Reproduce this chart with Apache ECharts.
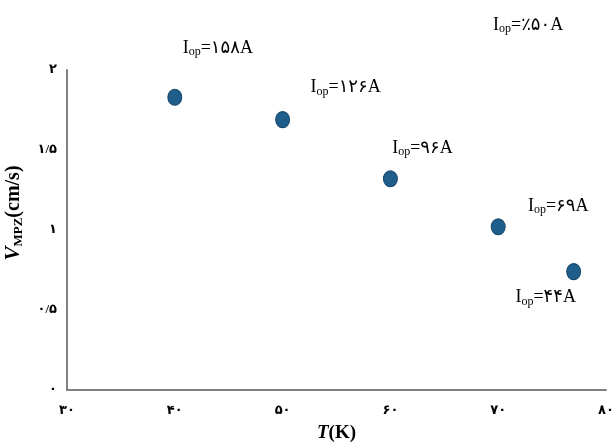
<!DOCTYPE html>
<html>
<head>
<meta charset="utf-8">
<script src="https://cdn.jsdelivr.net/npm/echarts@6/dist/echarts.min.js"></script>
<style>
  html, body { margin: 0; padding: 0; background: #fff; }
  #chart { width: 612px; height: 444px; }
</style>
</head>
<body>
<div id="chart"></div>
<script>
// Temperature (K) and MPZ velocity (cm/s) measurements
const temperatures = [40, 50, 60, 70, 77];
const velocities = [1.83, 1.69, 1.32, 1.02, 0.74];
// Operating current for each point (Persian digits)
const currents = ['۱۵۸', '۱۲۶', '۹۶', '۶۹', '۴۴'];
// Label offsets relative to each point
const labelOffsets = [[43, -49], [63, -32], [32, -31], [60, -21], [-28, 26]];

const xTicks = { 30: '۳۰', 40: '۴۰', 50: '۵۰', 60: '۶۰', 70: '۷۰', 80: '۸۰' };
const yTicks = { 0: '۰', 0.5: '۰/۵', 1: '۱', 1.5: '۱/۵', 2: '۲' };

const serif = '"Liberation Serif", "DejaVu Sans", serif';

const richLabel = {
  a: { fontFamily: serif, fontSize: 18, color: '#000', lineHeight: 22 },
  b: { fontFamily: serif, fontSize: 12, color: '#000', lineHeight: 22, padding: [8, 0, 0, 0] }
};

const chart = echarts.init(document.getElementById('chart'));
chart.setOption({
  animation: false,
  backgroundColor: '#fff',
  grid: { left: 67, right: 6, top: 70, bottom: 54, containLabel: false, outerBoundsMode: 'none' },
  xAxis: {
    type: 'value', min: 30, max: 80, interval: 10,
    axisLine: { show: true, lineStyle: { color: '#808080', width: 2 } },
    axisTick: { show: false },
    splitLine: { show: false },
    axisLabel: {
      margin: 14, fontSize: 13, fontWeight: 'bold', color: '#000',
      fontFamily: serif, formatter: v => xTicks[v]
    },
    name: '{t|T}{k|(K)}',
    nameLocation: 'middle', nameGap: 34,
    nameTextStyle: {
      rich: {
        t: { fontFamily: serif, fontSize: 19, fontWeight: 'bold', fontStyle: 'italic', color: '#000' },
        k: { fontFamily: serif, fontSize: 19, fontWeight: 'bold', color: '#000' }
      }
    }
  },
  yAxis: {
    type: 'value', min: 0, max: 2, interval: 0.5,
    axisLine: { show: true, lineStyle: { color: '#808080', width: 2 } },
    axisTick: { show: false },
    splitLine: { show: false },
    axisLabel: {
      margin: 10, fontSize: 13, fontWeight: 'bold', color: '#000',
      fontFamily: serif, formatter: v => yTicks[v]
    },
    name: '{v|V}{s|MPZ}{n|(cm/s)}',
    nameLocation: 'middle', nameGap: 40,
    nameTextStyle: {
      padding: [0, 0, 0, 34],
      rich: {
        v: { fontFamily: serif, fontSize: 21, fontWeight: 'bold', fontStyle: 'italic', color: '#000', lineHeight: 26 },
        s: { fontFamily: serif, fontSize: 13, fontWeight: 'bold', color: '#000', lineHeight: 26, padding: [9, 0, 0, 0] },
        n: { fontFamily: serif, fontSize: 20, fontWeight: 'bold', color: '#000', lineHeight: 26 }
      }
    }
  },
  series: [{
    type: 'scatter',
    symbol: 'circle',
    symbolSize: [14, 16],
    itemStyle: { color: '#1f5d8a', borderColor: '#15466b', borderWidth: 1, opacity: 1 },
    data: temperatures.map((t, i) => ({
      value: [t, velocities[i]],
      label: {
        show: true,
        position: 'inside',
        offset: labelOffsets[i],
        color: '#000',
        formatter: '{a|I}{b|op}{a|=' + currents[i] + 'A}',
        rich: richLabel
      }
    }))
  }],
  graphic: [{
    type: 'text',
    left: 493, top: 15,
    style: {
      text: '{a|I}{b|op}{a|=٪۵۰A}',
      fill: '#000',
      rich: richLabel
    }
  }]
});
</script>
</body>
</html>
